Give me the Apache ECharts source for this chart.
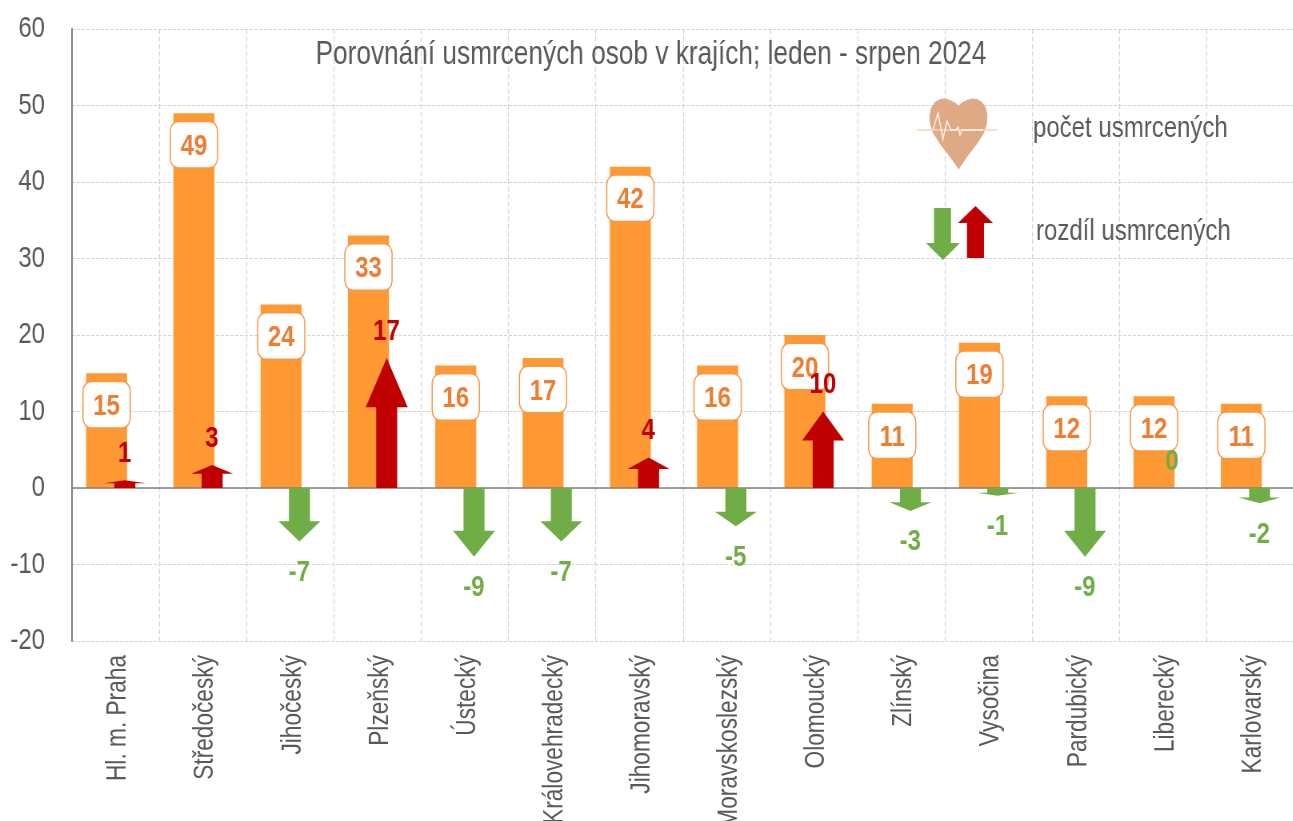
<!DOCTYPE html>
<html>
<head>
<meta charset="utf-8">
<script src="https://cdn.jsdelivr.net/npm/echarts@6/dist/echarts.min.js"></script>
<style>
  html, body { margin: 0; padding: 0; background: #fff; overflow: hidden; }
  /* no narrow font here, so the whole chart is squeezed sideways to get the same look */
  #main { width: 1616.25px; height: 821px; transform: scaleX(0.8); transform-origin: 0 0; }
</style>
</head>
<body>
<div id="main"></div>
<script>
var regions = ["Hl. m. Praha", "Středočeský", "Jihočeský", "Plzeňský", "Ústecký", "Královehradecký", "Jihomoravský", "Moravskoslezský", "Olomoucký", "Zlínský", "Vysočina", "Pardubický", "Liberecký", "Karlovarský"];
var deaths = [15, 49, 24, 33, 16, 17, 42, 16, 20, 11, 19, 12, 12, 11];
var diffs = [1, 3, -7, 17, -9, -7, 4, -5, 10, -3, -1, -9, 0, -2];

var FONT = '"Liberation Sans", Arial, sans-serif';
var GREY = "#595959";
var RED = "#c00000";
var GREEN = "#70ad47";
// pictorialBar flips this one by itself for negative values
var ARROW = "path://M50 0L100 38L75 38L75 100L25 100L25 38L0 38Z";

// screen x to chart x
function sx(x) {
  return x / 0.8;
}
function pts(list) {
  return list.map(function (p) {
    return [sx(p[0]), p[1]];
  });
}

var heart = [[958.7, 169.5], [950, 157], [940, 144], [933, 133], [930, 124], [929.5, 115], [931, 108], [935, 102], [940, 99], [945, 98.5], [950, 100], [955, 102.5], [958.5, 105.5], [962, 102.5], [967, 100], [972, 98.5], [977, 99], [982, 102], [986, 108], [987.5, 115], [987, 124], [984, 133], [977, 144], [967, 157]];
var pulse = [[933, 130], [938, 113], [943, 139], [947, 121], [951, 130], [956, 130], [958, 127], [960, 135], [962, 130], [983, 130]];
var arrowDown = [[934, 208], [951, 208], [951, 243], [960, 243], [943, 260], [926, 243], [934, 243]];
var arrowUp = [[975.5, 206], [993, 223], [984, 223], [984, 258], [967, 258], [967, 223], [958, 223]];

var myChart = echarts.init(document.getElementById("main"));
myChart.setOption({
  animation: false,
  textStyle: { fontFamily: FONT },
  title: {
    text: "Porovnání usmrcených osob v krajích; leden - srpen 2024",
    left: sx(311.5),
    top: 33,
    textStyle: { color: GREY, fontSize: 32.8, fontWeight: "normal", fontFamily: FONT },
  },
  grid: { left: sx(72), top: 29, width: sx(1222), height: 612, outerBoundsMode: "none" },
  xAxis: {
    type: "category",
    data: regions,
    axisLine: { onZero: false, show: false },
    axisTick: { show: false },
    axisLabel: { show: false },
    splitLine: {
      show: true,
      interval: 0,
      lineStyle: { color: "#d4d4d4", type: "dashed", width: 1.25 },
    },
  },
  yAxis: {
    type: "value",
    min: -20,
    max: 60,
    interval: 10,
    axisLine: { show: true, lineStyle: { color: "#808080", width: 2 } },
    axisTick: { show: false },
    axisLabel: { color: GREY, fontSize: 30, margin: sx(27), padding: [2, 0, 0, 0], fontFamily: FONT },
    splitLine: { lineStyle: { color: "#d4d4d4", type: "dashed" } },
  },
  series: [
    {
      type: "bar",
      data: deaths,
      barWidth: sx(41),
      barGap: "-56%",
      itemStyle: { color: "#ff9933" },
      label: {
        show: true,
        position: "insideTop",
        distance: 9,
        width: sx(46),
        height: 45,
        lineHeight: 49,
        align: "center",
        backgroundColor: "#fff",
        borderColor: "#f79646",
        borderWidth: 1.5,
        borderRadius: 9,
        color: "#ed7d31",
        fontSize: 30,
        fontWeight: "bold",
        fontFamily: FONT,
      },
      markLine: {
        silent: true,
        symbol: ["none", "none"],
        label: { show: false },
        lineStyle: { color: "#808080", type: "solid", width: 1.5 },
        data: [{ yAxis: 0 }],
        z: 3,
      },
    },
    {
      type: "bar",
      data: diffs.map(function () {
        return "-";
      }),
      barWidth: sx(41),
      itemStyle: { color: "transparent" },
    },
    {
      type: "pictorialBar",
      z: 5,
      symbol: ARROW,
      symbolSize: [sx(42), "100%"],
      symbolOffset: ["22%", 0],
      data: diffs.map(function (v) {
        return {
          value: v,
          itemStyle: { color: v > 0 ? RED : GREEN },
          label: {
            show: true,
            position: v === 0 ? "top" : "outside",
            distance: v < 0 ? 16 : 11.5,
            offset: [sx(9), 0],
            color: v > 0 ? RED : GREEN,
            fontSize: 30,
            fontWeight: "bold",
            fontFamily: FONT,
          },
        };
      }),
    },
    {
      // region names: narrowed along the text, and undo the sideways squeeze across it
      type: "custom",
      clip: false,
      silent: true,
      data: regions.map(function (name, i) {
        return [i];
      }),
      encode: { x: 0 },
      renderItem: function (params, api) {
        var p = api.coord([api.value(0), -20]);
        return {
          type: "text",
          x: p[0] + sx(2.5),
          y: p[1] + 14,
          rotation: Math.PI / 2,
          scaleX: 0.81,
          scaleY: 1.25,
          style: {
            text: regions[params.dataIndex],
            textAlign: "right",
            textVerticalAlign: "middle",
            fill: GREY,
            font: "28px " + FONT,
          },
        };
      },
    },
  ],
  graphic: [
    {
      type: "polygon",
      z: 10,
      shape: { points: pts(heart) },
      style: { fill: "#dfa985" },
    },
    {
      type: "line",
      z: 11,
      shape: { x1: sx(917), y1: 130, x2: sx(997), y2: 130 },
      style: { stroke: "#f2d3bd", lineWidth: 1.5 },
    },
    {
      type: "polyline",
      z: 12,
      shape: { points: pts(pulse) },
      style: { stroke: "#fdf3ec", fill: null, lineWidth: 1.5 },
    },
    {
      type: "polygon",
      z: 10,
      shape: { points: pts(arrowDown) },
      style: { fill: GREEN },
    },
    {
      type: "polygon",
      z: 10,
      shape: { points: pts(arrowUp) },
      style: { fill: RED },
    },
    {
      type: "text",
      z: 10,
      left: sx(1033),
      top: 114,
      style: { text: "počet usmrcených", fill: GREY, font: "30px " + FONT },
    },
    {
      type: "text",
      z: 10,
      left: sx(1036),
      top: 217,
      style: { text: "rozdíl usmrcených", fill: GREY, font: "30px " + FONT },
    },
  ],
});
</script>
</body>
</html>
